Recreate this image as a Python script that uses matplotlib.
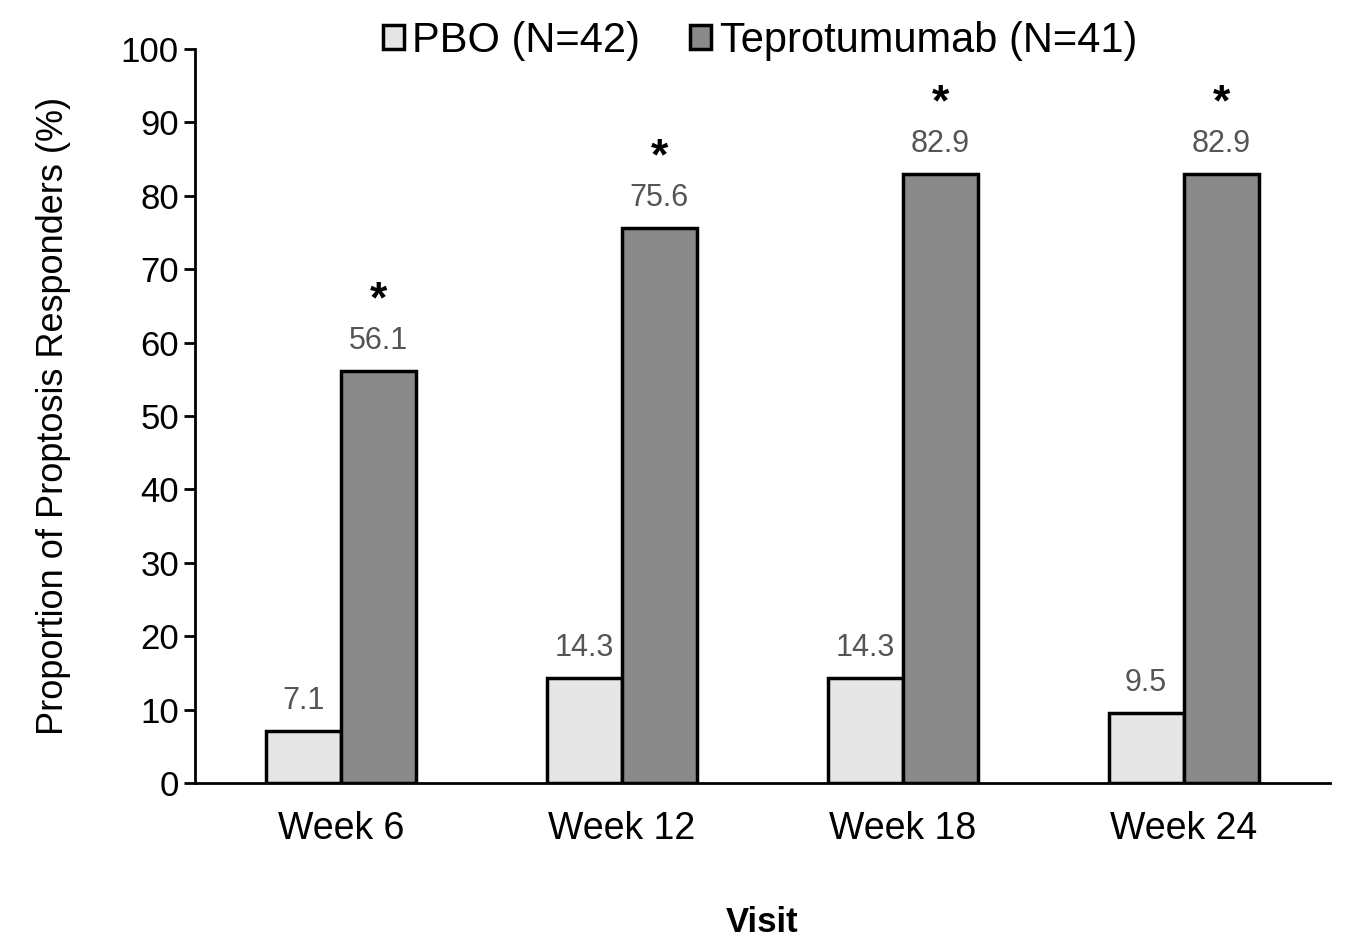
import matplotlib.pyplot as plt
import numpy as np

plt.rcParams['font.family'] = ['Liberation Sans', 'DejaVu Sans']

visits = ['Week 6', 'Week 12', 'Week 18', 'Week 24']
pbo = [7.1, 14.3, 14.3, 9.5]
tep = [56.1, 75.6, 82.9, 82.9]
series_names = ['PBO (N=42)', 'Teprotumumab (N=41)']

fig = plt.figure(figsize=(13.5, 9.47), dpi=100)
ax = fig.add_axes([0.1444, 0.1732, 0.8406, 0.7751])

x = np.arange(len(visits))
w = 0.267
b1 = ax.bar(x - w / 2, pbo, w, color='#e6e6e6', edgecolor='black', linewidth=2.5,
            label=series_names[0])
b2 = ax.bar(x + w / 2, tep, w, color='#8a8a8a', edgecolor='black', linewidth=2.5,
            label=series_names[1])

for bars, vals in [(b1, pbo), (b2, tep)]:
    for r, v in zip(bars, vals):
        ax.annotate(f'{v:.1f}', (r.get_x() + r.get_width() / 2, v),
                    xytext=(0, 11), textcoords='offset points',
                    ha='center', va='bottom', fontsize=22, color='#555555')

for r in b2:
    ax.annotate('*', (r.get_x() + r.get_width() / 2, r.get_height()),
                xytext=(0, 36), textcoords='offset points',
                ha='center', va='bottom', fontsize=32, fontweight='bold', color='black')

ax.set_xlim(-0.52, 3.52)
ax.set_ylim(0, 100)
ax.set_yticks(np.arange(0, 101, 10))
ax.set_xticks(x)
ax.set_xticklabels(visits, fontsize=27)
ax.tick_params(axis='y', labelsize=25, width=2, length=8, direction='out')
ax.tick_params(axis='x', length=0, pad=20)
for s in ['top', 'right']:
    ax.spines[s].set_visible(False)
for s in ['left', 'bottom']:
    ax.spines[s].set_linewidth(2)

ax.set_ylabel('Proportion of Proptosis Responders (%)', fontsize=26, labelpad=36)
ax.set_xlabel('Visit', fontsize=25, fontweight='bold', labelpad=43)

fig.legend(loc='center', bbox_to_anchor=(0.563, 0.957), ncol=2, frameon=False,
           fontsize=30, handlelength=0.5, handleheight=0.5, handletextpad=0.2,
           columnspacing=1.2)

fig.savefig('out.png', dpi=100)
